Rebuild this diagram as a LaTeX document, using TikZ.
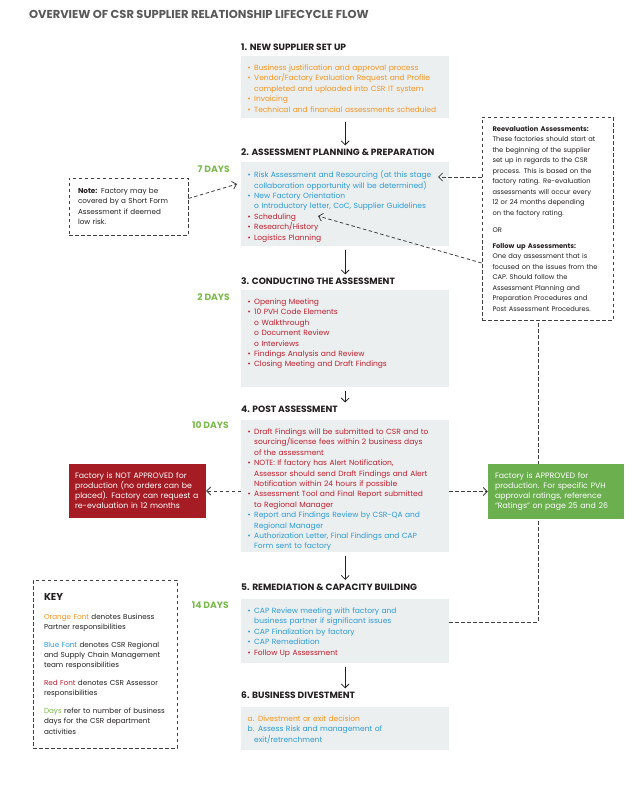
\documentclass[tikz,border=0pt]{standalone}
\usepackage{fontspec}
\setmainfont{Poppins}
\usetikzlibrary{arrows.meta,positioning}
\definecolor{ink}{HTML}{231F20}
\definecolor{titlegray}{HTML}{58595B}
\definecolor{dashgray}{HTML}{3F3F41}
\definecolor{bporange}{HTML}{F7941D}
\definecolor{csrblue}{HTML}{2B9AD5}
\definecolor{assred}{HTML}{BE1E2D}
\definecolor{daygreen}{HTML}{7CBA4D}
\definecolor{boxgray}{HTML}{EBEFF0}
\definecolor{rejred}{HTML}{A51C24}
\definecolor{okgreen}{HTML}{6BAF4F}
\newcommand{\bul}{\makebox[6.5pt][l]{\textbullet}}
\newcommand{\ind}{\hspace*{6.5pt}}
\tikzset{
  stagebox/.style={fill=boxgray,anchor=north west,minimum width=208pt,inner sep=0pt},
  stagetext/.style={anchor=north west,align=left,text width=198pt,inner xsep=6.5pt,inner ysep=8.5pt,
    font=\fontsize{7.5}{10.4}\selectfont},
  stagehead/.style={anchor=west,inner sep=0pt,text=ink,font=\bfseries\fontsize{9.1}{10}\selectfont},
  days/.style={anchor=east,inner sep=0pt,text=daygreen,font=\bfseries\fontsize{9.2}{10}\selectfont},
  dashbox/.style={draw=dashgray,dash pattern=on 3.5pt off 2.5pt,line width=0.8pt,align=left,
    text=ink,inner sep=0pt},
  flagbox/.style={align=left,text=white,inner sep=0pt,font=\fontsize{7.8}{10}\selectfont},
  arr/.style={-{Straight Barb[length=4pt,width=8pt]},line width=0.8pt,draw=ink},
  darr/.style={arr,draw=dashgray,dash pattern=on 3.5pt off 2.5pt},
  dline/.style={line width=0.8pt,draw=dashgray,dash pattern=on 3.5pt off 2.5pt},
}

\begin{document}
\begin{tikzpicture}[x=1pt,y=-1pt,
  stagearr/.style={arr,shorten <=3.5pt,shorten >=3.5pt}]
  \path[use as bounding box,fill=white] (0,0) rectangle (635,786);
  \node[anchor=west,inner sep=0pt,text=titlegray,font=\bfseries\fontsize{11.5}{13}\selectfont] (title) at (29,14)
    {OVERVIEW OF CSR SUPPLIER RELATIONSHIP LIFECYCLE FLOW};

  \node[stagehead] (head1) at (241,47) {1. NEW SUPPLIER SET UP};
  \node[stagebox,minimum height=62pt] (box1) at (241,56) {};
  \node[stagetext,text=bporange] (box1txt) at (box1.north west)
    {\bul Business justification and approval process\\
     \bul Vendor/Factory Evaluation Request and Profile\\
     \ind completed and uploaded into CSR IT system\\
     \bul Invoicing\\
     \bul Technical and financial assessments scheduled};

  \node[stagehead] (head2) at (241,152.5) {2. ASSESSMENT PLANNING \& PREPARATION};
  \node[days] (days2) at (230,169) {7 DAYS};
  \node[stagebox,minimum height=84pt] (box2) at (241,162) {};
  \node[stagetext] (box2txt) at (box2.north west)
    {\color{csrblue}\bul Risk Assessment and Resourcing (at this stage\\
     \ind collaboration opportunity will be determined)\\
     \bul New Factory Orientation\\
     \ind o Introductory letter, CoC, Supplier Guidelines\\
     \color{assred}\bul Scheduling\\
     \bul Research/History\\
     \bul Logistics Planning};

  \node[stagehead] (head3) at (241,281.5) {3. CONDUCTING THE ASSESSMENT};
  \node[days] (days3) at (230,297) {2 DAYS};
  \node[stagebox,minimum height=97pt] (box3) at (241,290) {};
  \node[stagetext,text=assred] (box3txt) at (box3.north west)
    {\bul Opening Meeting\\
     \bul 10 PVH Code Elements\\
     \ind o Walkthrough\\
     \ind o Document Review\\
     \ind o Interviews\\
     \bul Findings Analysis and Review\\
     \bul Closing Meeting and Draft Findings};

  \node[stagehead] (head4) at (241,409.5) {4. POST ASSESSMENT};
  \node[days] (days4) at (229,425.5) {10 DAYS};
  \node[stagebox,minimum height=132pt] (box4) at (241,420) {};
  \node[stagetext] (box4txt) at (box4.north west)
    {\color{assred}\bul Draft Findings will be submitted to CSR and to\\
     \ind sourcing/license fees within 2 business days\\
     \ind of the assessment\\
     \bul NOTE: If factory has Alert Notification,\\
     \ind Assessor should send Draft Findings and Alert\\
     \ind Notification within 24 hours if possible\\
     \bul Assessment Tool and Final Report submitted\\
     \ind to Regional Manager\\
     \color{csrblue}\bul Report and Findings Review by CSR-QA and\\
     \ind Regional Manager\\
     \bul Authorization Letter, Final Findings and CAP\\
     \ind Form sent to factory};

  \node[stagehead] (head5) at (241,587) {5. REMEDIATION \& CAPACITY BUILDING};
  \node[days] (days5) at (229,605.5) {14 DAYS};
  \node[stagebox,minimum height=64pt] (box5) at (241,599) {};
  \node[stagetext] (box5txt) at (box5.north west)
    {\color{csrblue}\bul CAP Review meeting with factory and\\
     \ind business partner if significant issues\\
     \bul CAP Finalization by factory\\
     \bul CAP Remediation\\
     \color{assred}\bul Follow Up Assessment};

  \node[stagehead] (head6) at (241,695.5) {6. BUSINESS DIVESTMENT};
  \node[stagebox,minimum height=43pt] (box6) at (241,707) {};
  \node[stagetext] (box6txt) at (box6.north west)
    {\color{bporange}a. Divestment or exit decision\\
     \color{csrblue}b. Assess Risk and management of\\
     \ind exit/retrenchment};

  \node[dashbox,minimum width=119pt,minimum height=57pt,text width=101pt,
    font=\fontsize{7.2}{10.3}\selectfont] (note) at (128.5,206.5)
    {\textbf{Note:} Factory may be\\covered by a Short Form\\Assessment if deemed\\low risk.};

  \node[dashbox,minimum width=131pt,minimum height=203pt,text width=110pt,
    font=\fontsize{6.7}{10.5}\selectfont] (reeval) at (547.5,218.5)
    {\textbf{Reevaluation Assessments:}\\
     These factories should start at\\
     the beginning of the supplier\\
     set up in regards to the CSR\\
     process. This is based on the\\
     factory rating. Re-evaluation\\
     assessments will occur every\\
     12 or 24 months depending\\
     on the factory rating.\\[7pt]
     OR\\[5pt]
     \textbf{Follow up Assessments:}\\
     One day assessment that is\\
     focused on the issues from the\\
     CAP. Should follow the\\
     Assessment Planning and\\
     Preparation Procedures and\\
     Post Assessment Procedures.};

  \node[dashbox,minimum width=144pt,minimum height=168pt,text width=122pt,
    font=\fontsize{7.2}{10.3}\selectfont] (key) at (105,664)
    {{\bfseries\fontsize{10}{12}\selectfont KEY}\\[8pt]
     \textcolor{bporange}{Orange Font} denotes Business\\
     Partner responsibilities\\[7.5pt]
     \textcolor{csrblue}{Blue Font} denotes CSR Regional\\
     and Supply Chain Management\\
     team responsibilities\\[7.5pt]
     \textcolor{assred}{Red Font} denotes CSR Assessor\\
     responsibilities\\[7.5pt]
     \textcolor{daygreen}{Days} refer to number of business\\
     days for the CSR department\\
     activities};

  \node[flagbox,fill=rejred,minimum width=137pt,minimum height=54pt,text width=125pt] (rejected) at (137.5,491)
    {Factory is NOT APPROVED for\\production (no orders can be\\placed). Factory can request a\\re-evaluation in 12 months};

  \draw[dline] ([yshift=9pt]box5.east) -| ([xshift=-9.5pt]reeval.south);
  \node[flagbox,fill=okgreen,minimum width=136pt,minimum height=55pt,text width=122pt] (approved) at (556,491.5)
    {Factory is APPROVED for\\production. For specific PVH\\approval ratings, reference\\“Ratings” on page 25 and 26};

  \coordinate (riskpt) at (438,177);
  \coordinate (schedpt) at (318,216);

  \draw[stagearr] (box1.south) -- (box1.south |- head2.north);
  \draw[stagearr] (box2.south) -- (box2.south |- head3.north);
  \draw[stagearr] (box3.south) -- (box3.south |- head4.north);
  \draw[stagearr] (box4.south) -- (box4.south |- head5.north);
  \draw[stagearr] (box5.south) -- (box5.south |- head6.north);
  \draw[darr] ([yshift=8pt]note.east) -- ([xshift=-4pt,yshift=-22pt]box2.north west);
  \draw[darr] (reeval.west |- riskpt) -- (riskpt);
  \draw[darr] ([yshift=-44.5pt]reeval.west) -- (schedpt);
  \draw[darr] (rejected.east -| box4.west) -- (rejected.east);
  \draw[darr] (approved.west -| box4.east) -- (approved.west);
\end{tikzpicture}
\end{document}
